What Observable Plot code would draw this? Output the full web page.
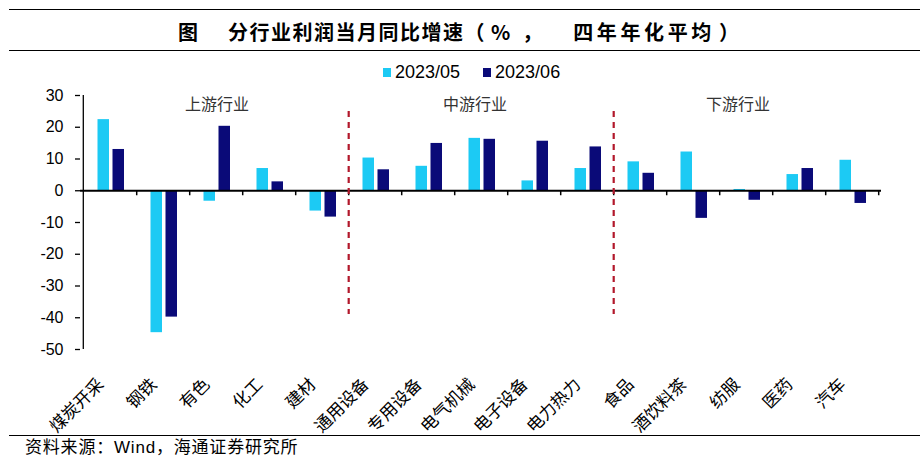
<!DOCTYPE html>
<html>
<head>
<meta charset="utf-8">
<script src="https://cdn.jsdelivr.net/npm/d3@7"></script>
<script src="https://cdn.jsdelivr.net/npm/@observablehq/plot@0.6"></script>
<style>
  html, body { margin: 0; padding: 0; background: #fff; }
  #wrap { position: relative; width: 924px; height: 468px; overflow: hidden;
          font-family: "Liberation Sans", "Noto Sans CJK SC", sans-serif; color: #000; }
  .hline { position: absolute; left: 9px; width: 911px; height: 0; border-top: 1.5px solid #000; }
  #title { position: absolute; left: 178px; top: 19px; text-align: left;
           font-family: "Noto Sans CJK SC", sans-serif; font-weight: 700; font-size: 20px;
           line-height: 26px; white-space: nowrap; }
  #title span { display: inline-block; }
  #legend { position: absolute; left: 383px; top: 61px; display: flex; align-items: center;
            font-size: 18px; line-height: 22px; white-space: nowrap; }
  #legend .sw { display: inline-block; width: 8px; height: 9px; margin-right: 4px; }
  #legend .item { display: flex; align-items: center; margin-right: 23px; }
  #chart { position: absolute; left: 0; top: 80px; }
  #source { position: absolute; left: 25px; top: 437px; font-size: 17px; line-height: 22px;
            letter-spacing: 0.8px;
            font-family: "Liberation Sans", "Noto Sans CJK SC", sans-serif; white-space: nowrap; }
</style>
</head>
<body>
<div id="wrap">
  <div class="hline" style="top:9px"></div>
  <div id="title"></div>
  <div class="hline" style="top:50px"></div>
  <div id="legend"></div>
  <div id="chart"></div>
  <div class="hline" style="top:435px"></div>
  <div id="source"></div>
</div>
<script>
// ---- data ----
const categories = ["煤炭开采","钢铁","有色","化工","建材","通用设备","专用设备","电气机械","电子设备","电力热力","食品","酒饮料茶","纺服","医药","汽车"];
const series = ["2023/05","2023/06"];
const valuesMay = [22.4, -44.7, -3.3, 7.0, -6.4, 10.3, 7.7, 16.5, 3.1, 7.0, 9.1, 12.2, 0.4, 5.1, 9.6];
const valuesJun = [13.0, -39.8, 20.3, 2.8, -8.3, 6.6, 14.9, 16.2, 15.6, 13.8, 5.5, -8.7, -3.0, 7.0, -4.0];
const yTicks = [30, 20, 10, 0, -10, -20, -30, -40, -50];
const groupLabels = ["上游行业","中游行业","下游行业"];
const groupAnchors = ["有色","电气机械","纺服"];
const dividerAfter = ["建材","电力热力"];
const dividerRange = [25, -39];
const groupLabelY = 27;
const titleParts = ["图", "分行业利润当月同比增速（", "%", "，", "四年年化平均", "）"];
const sourceText = "资料来源：Wind，海通证券研究所";
const colors = ["#1ccaf4", "#0a0a78"];

// ---- layout ----
const W = 924, H = 356, mL = 80, mR = 43, mT = 15, mB = 87;
const step = (W - mL - mR) / categories.length;

const rows = categories.map((c, i) => ({cat: c, may: valuesMay[i], jun: valuesJun[i]}));

// title / legend / source
const titleStyles = ["", "margin-left:30px;letter-spacing:1.5px", "margin-left:5px", "margin-left:12px", "margin-left:31px;letter-spacing:3.6px", "margin-left:4px"];
document.getElementById("title").innerHTML =
  titleParts.map((p, i) => `<span style="${titleStyles[i]}">${p}</span>`).join("");
const lg = document.getElementById("legend");
lg.innerHTML = series.map((s, i) => `<span class="item"><span class="sw" style="background:${colors[i]}"></span>${s}</span>`).join("");
document.getElementById("source").textContent = sourceText;

const chart = Plot.plot({
  width: W, height: H,
  marginLeft: mL, marginRight: mR, marginTop: mT, marginBottom: mB,
  style: {fontFamily: "'Liberation Sans', 'Noto Sans CJK SC', sans-serif", background: "transparent"},
  x: {domain: categories, padding: 0, axis: null},
  y: {domain: [-50, 30], axis: null},
  marks: [
    Plot.axisY(yTicks, {tickSize: 5, tickPadding: 12, fontSize: 16, tickFormat: d => String(d), stroke: "#000", strokeWidth: 1.3, color: "#000"}),
    Plot.ruleX([categories[0]], {dx: -step / 2, y1: yTicks[yTicks.length - 1], y2: yTicks[0], stroke: "#000", strokeWidth: 1.3}),
    Plot.barY(rows, {x: "cat", y: "may", fill: colors[0], insetLeft: 14.5, insetRight: 27}),
    Plot.barY(rows, {x: "cat", y: "jun", fill: colors[1], insetLeft: 29.5, insetRight: 12}),
    Plot.ruleY([0], {stroke: "#000", strokeWidth: 1.8}),
    Plot.ruleX(categories, {x: d => d, y1: 0, y2: 0, dx: step / 2, insetBottom: -5, stroke: "#000", strokeWidth: 1.5}),
    Plot.ruleX(dividerAfter, {x: d => d, y1: dividerRange[0], y2: dividerRange[1], dx: step / 2, stroke: "#b2182b", strokeWidth: 2.2, strokeDasharray: "6,5"}),
    Plot.text([groupLabels[0]], {x: () => groupAnchors[0], y: () => groupLabelY, dx: 1, fontSize: 16, fill: "#333", fontFamily: "'Noto Sans CJK SC'", style: "letter-spacing:3px"}),
    Plot.text([groupLabels[1]], {x: () => groupAnchors[1], y: () => groupLabelY, dx: -6, fontSize: 16, fill: "#333", fontFamily: "'Noto Sans CJK SC'", style: "letter-spacing:3px"}),
    Plot.text([groupLabels[2]], {x: () => groupAnchors[2], y: () => groupLabelY, dx: -8, fontSize: 16, fill: "#333", fontFamily: "'Noto Sans CJK SC'", style: "letter-spacing:3px"}),
    Plot.axisX({tickSize: 0, tickRotate: -45, tickPadding: 32, dx: -9, fontSize: 17, fontFamily: "'Noto Sans CJK SC'", color: "#000", label: null})
  ]
});
document.getElementById("chart").appendChild(chart);
</script>
</body>
</html>
